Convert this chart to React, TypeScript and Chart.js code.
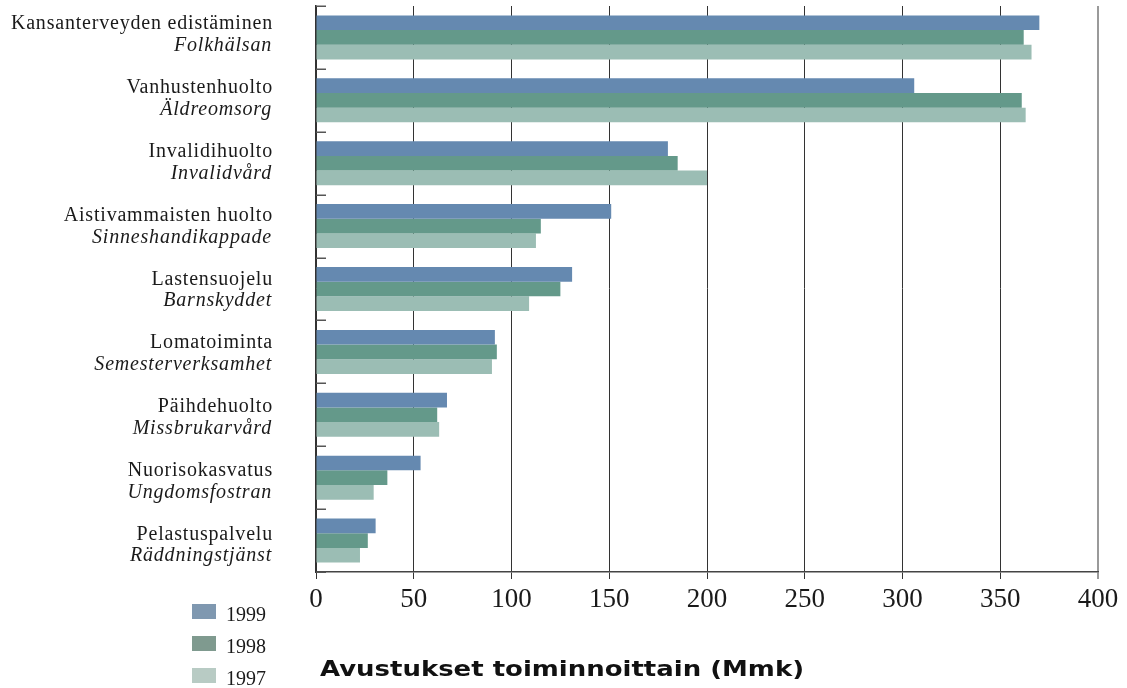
import React, { useEffect, useRef } from "react";
import { Chart, registerables } from "chart.js";

Chart.register(...registerables);

const categoriesFi = [
  "Kansanterveyden edistäminen",
  "Vanhustenhuolto",
  "Invalidihuolto",
  "Aistivammaisten huolto",
  "Lastensuojelu",
  "Lomatoiminta",
  "Päihdehuolto",
  "Nuorisokasvatus",
  "Pelastuspalvelu",
];
const categoriesSv = [
  "Folkhälsan",
  "Äldreomsorg",
  "Invalidvård",
  "Sinneshandikappade",
  "Barnskyddet",
  "Semesterverksamhet",
  "Missbrukarvård",
  "Ungdomsfostran",
  "Räddningstjänst",
];
const seriesLabels = ["1999", "1998", "1997"];
const values1999 = [370, 306, 180, 151, 131, 91.5, 67, 53.5, 30.5];
const values1998 = [362, 361, 185, 115, 125, 92.5, 62, 36.5, 26.5];
const values1997 = [366, 363, 200, 112.5, 109, 90, 63, 29.5, 22.5];
const barColors = ["#6589b0", "#64998a", "#9bbdb4"];
const legendColors = ["#7f98b0", "#7f9a8f", "#b8cbc4"];
const xTicks = [0, 50, 100, 150, 200, 250, 300, 350, 400];
const titleText = "Avustukset toiminnoittain (Mmk)";

const SERIF = '"Liberation Serif", "Times New Roman", serif';

const decorPlugin = {
  id: "decor",
  beforeDatasetsDraw(chart: any) {
    const { ctx, chartArea } = chart;
    const n = categoriesFi.length;
    const h = (chartArea.bottom - chartArea.top) / n;
    ctx.save();
    ctx.strokeStyle = "#555";
    ctx.lineWidth = 1.5;
    for (let i = 0; i <= n; i++) {
      const y = Math.round(chartArea.top + i * h) + 0.25;
      ctx.beginPath();
      ctx.moveTo(chartArea.left, y);
      ctx.lineTo(chartArea.left + 10, y);
      ctx.stroke();
    }
    ctx.restore();
  },
  afterDraw(chart: any) {
    const { ctx } = chart;
    const yScale = chart.scales.y;
    ctx.save();
    ctx.fillStyle = "#1a1a1a";
    ctx.textAlign = "right";
    ctx.textBaseline = "alphabetic";
    (ctx as any).letterSpacing = "0.8px";
    categoriesFi.forEach((fi, i) => {
      const yc = yScale.getPixelForValue(i);
      const base = yc - 8 + 0.9 * i;
      ctx.font = `20px ${SERIF}`;
      ctx.fillText(fi, 273, base);
      ctx.font = `italic 20px ${SERIF}`;
      ctx.fillText(categoriesSv[i], 272, base + 21.7);
    });
    (ctx as any).letterSpacing = "0px";
    // legend
    ctx.textAlign = "left";
    seriesLabels.forEach((lab, i) => {
      const base = 621 + i * 32;
      ctx.fillStyle = legendColors[i];
      ctx.fillRect(192, base - 17, 24, 15);
      ctx.fillStyle = "#1a1a1a";
      ctx.font = `20px ${SERIF}`;
      ctx.fillText(lab, 226, base);
    });
    // title
    ctx.font = `bold 21px "DejaVu Sans", sans-serif`;
    const w = ctx.measureText(titleText).width;
    const target = 484;
    ctx.translate(320, 676);
    ctx.scale(target / w, 1);
    ctx.fillStyle = "#111";
    ctx.fillText(titleText, 0, 0);
    ctx.restore();
  },
};

export default function App() {
  const ref = useRef<HTMLCanvasElement | null>(null);
  useEffect(() => {
    if (!ref.current) return;
    const chart = new Chart(ref.current, {
      type: "bar",
      data: {
        labels: categoriesFi,
        datasets: [values1999, values1998, values1997].map((d, i) => ({
          label: seriesLabels[i],
          data: d,
          backgroundColor: barColors[i],
          borderWidth: 0,
          categoryPercentage: 0.7,
          barPercentage: 1.0,
        })),
      },
      options: {
        indexAxis: "y",
        responsive: false,
        animation: false,
        layout: { padding: { left: 316, right: 29, top: 6, bottom: 66 } },
        plugins: {
          legend: { display: false },
          tooltip: { enabled: false },
          title: { display: false },
        },
        scales: {
          x: {
            type: "linear",
            position: "bottom",
            min: 0,
            max: 400,
            afterBuildTicks: (s: any) => {
              s.ticks = xTicks.map((v) => ({ value: v }));
            },
            afterFit: (s: any) => {
              s.height = 50;
            },
            grid: {
              color: (c: any) => (c.tick && c.tick.value === 400 ? "#9a9a9a" : "#333"),
              lineWidth: (c: any) => (c.tick && c.tick.value === 400 ? 2 : 1),
              tickColor: (c: any) => (c.tick && c.tick.value === 400 ? "#9a9a9a" : "#333"),
              drawTicks: true,
              tickLength: 7,
            },
            border: { display: true, color: "#444", width: 1.5 },
            ticks: {
              font: { family: SERIF, size: 27 },
              color: "#1a1a1a",
              padding: 5,
              maxRotation: 0,
              autoSkip: false,
            },
          },
          y: {
            type: "category",
            offset: true,
            grid: { display: false },
            border: { display: true, color: "#333", width: 1.5 },
            ticks: { display: false },
            afterFit: (s: any) => {
              s.width = 0;
            },
          },
        },
      } as any,
      plugins: [decorPlugin],
    });
    return () => chart.destroy();
  }, []);
  return (
    <canvas
      ref={ref}
      width={1127}
      height={688}
      style={{ position: "fixed", left: 0, top: 0, width: 1127, height: 688, display: "block" }}
    />
  );
}
